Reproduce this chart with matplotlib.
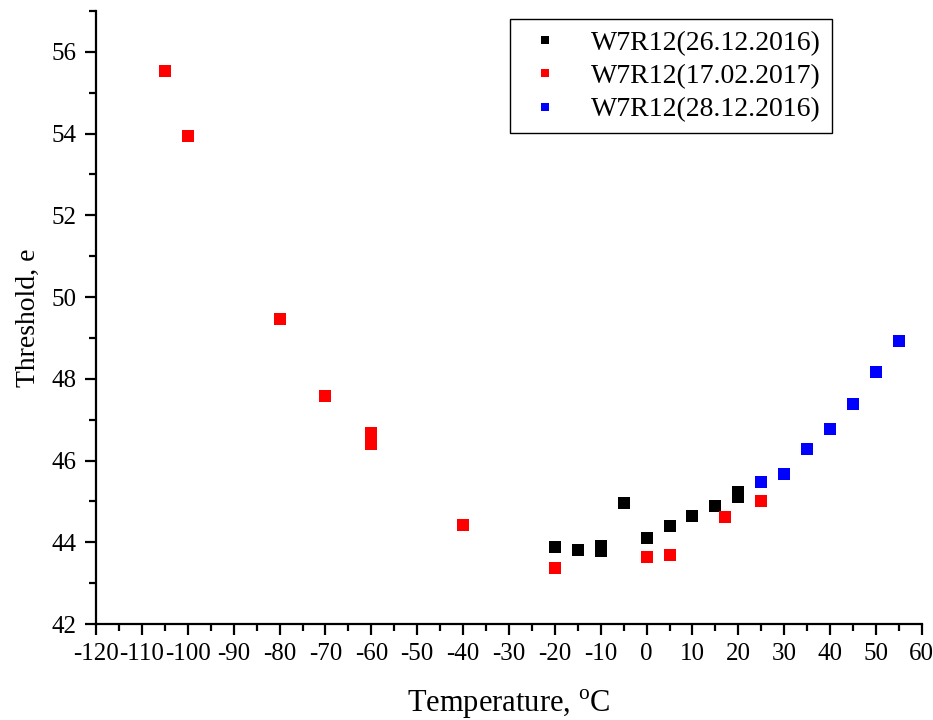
import matplotlib
matplotlib.use("Agg")
import matplotlib.pyplot as plt
from matplotlib.ticker import MultipleLocator

plt.rcParams['font.family'] = ['Liberation Serif', 'DejaVu Serif']
plt.rcParams['mathtext.fontset'] = 'custom'
plt.rcParams['mathtext.rm'] = 'Liberation Serif'
plt.rcParams['axes.unicode_minus'] = False

# W7R12 measured 26.12.2016
t_black = [-20, -15, -10, -10, -5, 0, 5, 10, 15, 20, 20]
thr_black = [43.88, 43.82, 43.90, 43.78, 44.96, 44.10, 44.39, 44.65, 44.89, 45.23, 45.10]

# W7R12 measured 17.02.2017
t_red = [-105, -100, -80, -70, -60, -60, -40, -20, 0, 5, 17, 25]
thr_red = [55.54, 53.95, 49.46, 47.58, 46.68, 46.40, 44.43, 43.36, 43.63, 43.70, 44.63, 45.00]

# W7R12 measured 28.12.2016
t_blue = [25, 30, 35, 40, 45, 50, 55]
thr_blue = [45.48, 45.68, 46.28, 46.76, 47.39, 48.17, 48.93]

fig = plt.figure(figsize=(9.33, 7.2), dpi=100)
ax = fig.add_axes([0.103, 0.1333, 0.885, 0.8514])

ms = 8.5
ax.plot(t_black, thr_black, 's', color='black', ms=ms, mew=0, label='W7R12(26.12.2016)')
ax.plot(t_red, thr_red, 's', color='#ff0000', ms=ms, mew=0, label='W7R12(17.02.2017)')
ax.plot(t_blue, thr_blue, 's', color='#0000ff', ms=ms, mew=0, label='W7R12(28.12.2016)')

ax.set_xlim(-120, 60)
ax.set_ylim(42, 57)
ax.xaxis.set_major_locator(MultipleLocator(10))
ax.xaxis.set_minor_locator(MultipleLocator(5))
ax.yaxis.set_major_locator(MultipleLocator(2))
ax.yaxis.set_minor_locator(MultipleLocator(1))

for s in ['top', 'right']:
    ax.spines[s].set_visible(False)
for s in ['left', 'bottom']:
    ax.spines[s].set_linewidth(1.6)

ax.tick_params(which='major', direction='out', length=8, width=1.6, labelsize=18, pad=6)
ax.tick_params(which='minor', direction='out', length=5, width=1.6)

ax.set_xlabel(r'Temperature, $^{\rm o}$C', fontsize=22, labelpad=16)
ax.set_ylabel('Threshold, e', fontsize=20, labelpad=8)

leg = ax.legend(loc='upper right', bbox_to_anchor=(0.901, 1.0), fontsize=20,
                markerscale=0.6, handlelength=1.7, handletextpad=0.8,
                borderpad=0.4, borderaxespad=0.3, labelspacing=0.28,
                fancybox=False, edgecolor='black', framealpha=1)
leg.get_frame().set_linewidth(1.0)

fig.savefig('out.png', dpi=100)
